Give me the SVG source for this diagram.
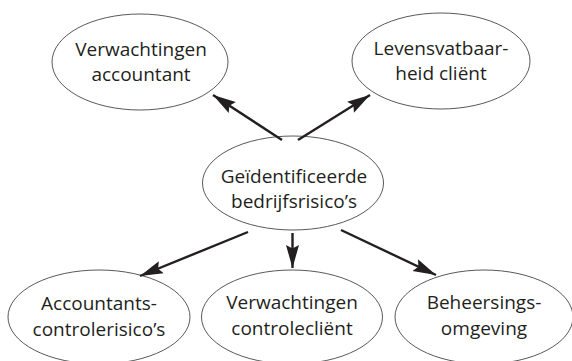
<svg xmlns="http://www.w3.org/2000/svg" width="572" height="361" viewBox="0 0 572 361">
<style>
.n ellipse{fill:#fff;stroke:#3a3a3a;stroke-width:0.85}
.n text{font-family:"Open Sans","Noto Sans",sans-serif;font-size:19px;fill:#231f20;text-anchor:middle}
.c path{fill:none;stroke:#231f20;stroke-width:2.4}
</style>
<defs>
<marker id="ah" markerUnits="userSpaceOnUse" markerWidth="24" markerHeight="14" viewBox="0 0 24 14" refX="23" refY="7" orient="auto">
<path d="M0,0.5 L23,7 L0,13.5 L3.5,7 z" fill="#231f20"/>
</marker>
</defs>
<rect width="572" height="361" fill="#fff"/>
<g id="n1" class="n"><ellipse cx="140" cy="62" rx="88" ry="48"/><text x="141" y="56">Verwachtingen</text><text x="141" y="81">accountant</text></g>
<g id="n2" class="n"><ellipse cx="441" cy="61" rx="89" ry="48"/><text x="441" y="55">Levensvatbaar-</text><text x="441" y="80">heid cliënt</text></g>
<g id="n3" class="n"><ellipse cx="293" cy="183" rx="90.5" ry="47"/><text x="294" y="183">Geïdentificeerde</text><text x="294" y="208">bedrijfsrisico’s</text></g>
<g id="n4" class="n"><ellipse cx="99" cy="317" rx="91" ry="47"/><text x="99" y="310">Accountants-</text><text x="99" y="336">controlerisico’s</text></g>
<g id="n5" class="n"><ellipse cx="292" cy="317" rx="90.5" ry="47"/><text x="292" y="309">Verwachtingen</text><text x="292" y="335">controlecliënt</text></g>
<g id="n6" class="n"><ellipse cx="484" cy="317" rx="89" ry="47"/><text x="484" y="309">Beheersings-</text><text x="484" y="335">omgeving</text></g>
<g id="connectors" class="c">
<path d="M282,140 L213,95" marker-end="url(#ah)"/>
<path d="M298,140 L370,95" marker-end="url(#ah)"/>
<path d="M248,232 L140,276" marker-end="url(#ah)"/>
<path d="M292.5,233 L292.5,268" marker-end="url(#ah)"/>
<path d="M341,230 L436,275" marker-end="url(#ah)"/>
</g>
</svg>
